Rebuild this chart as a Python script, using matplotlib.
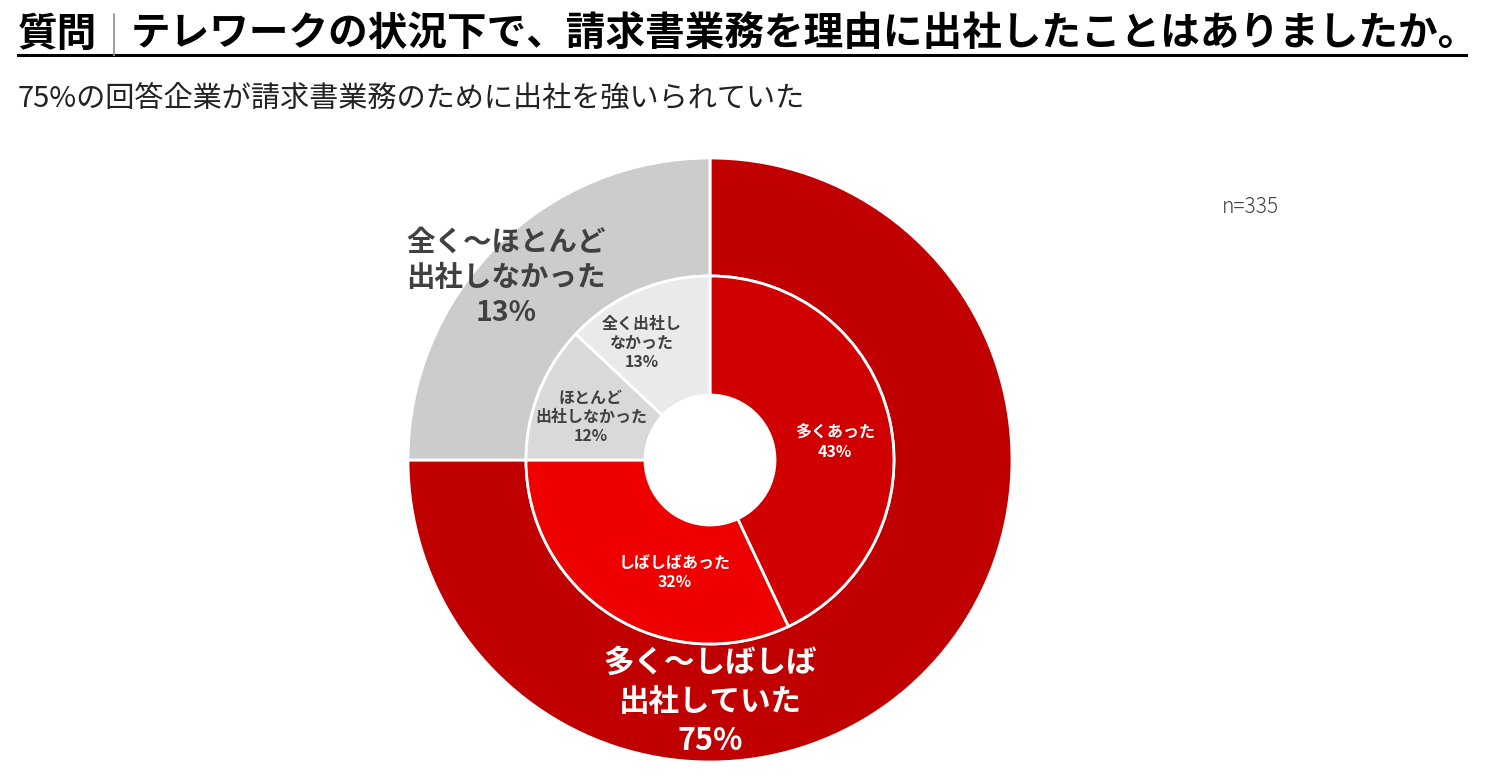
import numpy as np
from matplotlib import pyplot as plt

plt.rcParams["font.family"] = ["Noto Sans CJK JP", "DejaVu Sans"]

# outer ring (summary) and inner ring (detail), clockwise from 12 o'clock
outer_labels = ["多く～しばしば\n出社していた\n75%", "全く～ほとんど\n出社しなかった\n13%"]
outer_values = [75, 25]
inner_labels = [
    "多くあった\n43%",
    "しばしばあった\n32%",
    "ほとんど\n出社しなかった\n12%",
    "全く出社し\nなかった\n13%",
]
inner_values = [43, 32, 12, 13]

title_head = "質問"
title_body = "テレワークの状況下で、請求書業務を理由に出社したことはありましたか。"
subtitle = "75%の回答企業が請求書業務のために出社を強いられていた"
note = "n=335"

W, H = 1508, 780


def px(x, y):
    # image pixel coords -> axes data coords
    return x, H - y


fig = plt.figure(figsize=(W / 100, H / 100), dpi=100)
ax = fig.add_axes([0, 0, 1, 1])

center = px(710, 460)
edge = dict(edgecolor="white", linewidth=2)

ax.pie(
    outer_values,
    colors=["#C00000", "#CCCCCC"],
    radius=302,
    center=center,
    startangle=90,
    counterclock=False,
    wedgeprops=dict(width=118, **edge),
    frame=True,
)
ax.pie(
    inner_values,
    colors=["#D00000", "#EE0000", "#D9D9D9", "#EAEAEA"],
    radius=184,
    center=center,
    startangle=90,
    counterclock=False,
    wedgeprops=dict(width=119, **edge),
    frame=True,
)
ax.set_xlim(0, W)
ax.set_ylim(0, H)
ax.axis("off")

dark = "#404040"

# ring labels
ax.text(*px(710, 702), outer_labels[0], ha="center", va="center",
        fontsize=22, fontweight="bold", color="white", linespacing=1.3)
ax.text(*px(506, 278), outer_labels[1], ha="center", va="center",
        fontsize=20.5, fontweight="bold", color=dark, linespacing=1.32)

inner_pos = [(835, 442), (675, 572), (591, 417), (642, 343)]
inner_col = ["white", "white", dark, dark]
for lab, (x, y), c in zip(inner_labels, inner_pos, inner_col):
    ax.text(*px(x, y), lab, ha="center", va="center", fontsize=11.5,
            fontweight="bold", color=c, linespacing=1.25)

# title, underline, subtitle, sample size
ax.text(*px(18, 34), title_head, ha="left", va="center", fontsize=28.5,
        fontweight="bold", color="black")
ax.text(*px(114, 35), "|", ha="center", va="center", fontsize=28,
        fontweight="light", color="#909090")
ax.text(*px(131, 34), title_body, ha="left", va="center", fontsize=28.5,
        fontweight="bold", color="black")
ax.plot([18, 1466], [H - 55, H - 55], color="black", linewidth=2.2)

ax.text(*px(18, 99), subtitle, ha="left", va="center", fontsize=21,
        color="#222222")
ax.text(*px(1250, 207), note, ha="center", va="center", fontsize=15,
        fontweight="light", color=dark)

fig.savefig("out.png", dpi=100)
